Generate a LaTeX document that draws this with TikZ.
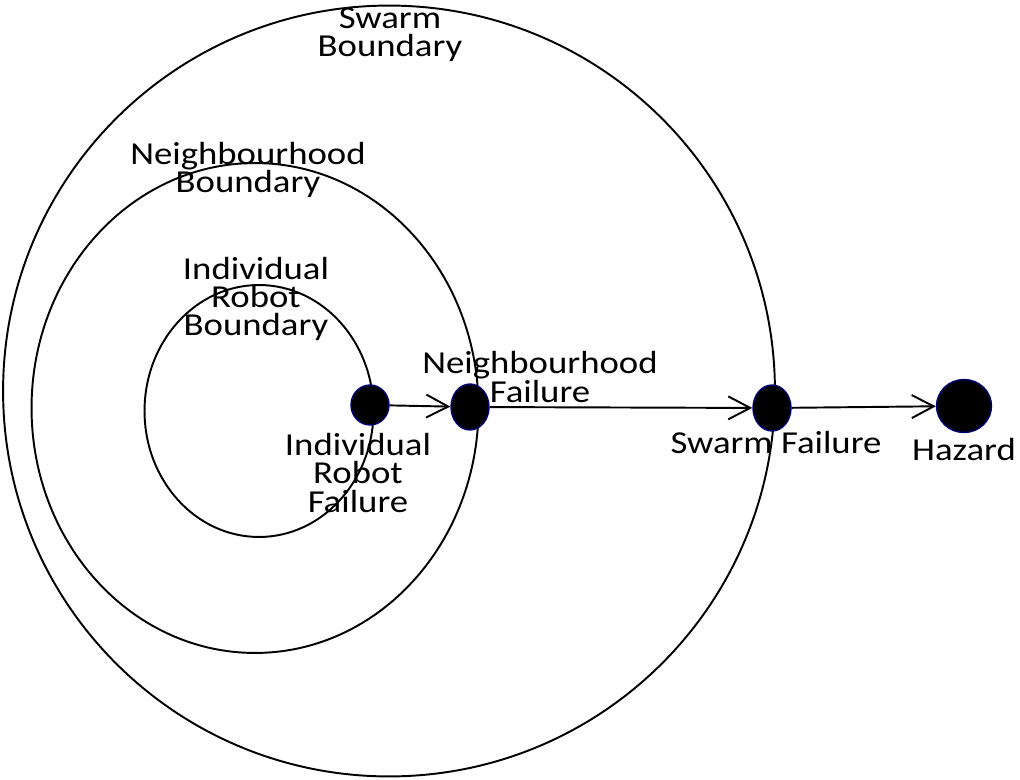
\documentclass[tikz,border=0pt]{standalone}
\usepackage{fontspec}
\setmainfont{Carlito}[FakeStretch=1.15]
\usepackage{tikz}
\usetikzlibrary{positioning,arrows.meta,shapes.geometric}

\begin{document}
\begin{tikzpicture}[
  x=0.02cm, y=-0.02cm,
  >={Straight Barb[length=4.4mm,width=4.6mm,line width=1.1pt]},
  bound/.style={line width=1.1pt},
  fdot/.style={draw=blue!45!black,line width=0.8pt,fill=black,ellipse,
               inner sep=0pt,minimum width=7.6mm,minimum height=9.2mm},
  lbl/.style={align=center,inner sep=0pt,font=\fontsize{18.2}{16}\selectfont},
  flow/.style={->,line width=1.1pt}]
  \useasboundingbox (0,0) rectangle (1020,780);
  % --- nested boundaries ---
  \draw[bound] (389,391) ellipse [x radius=7.72cm, y radius=7.71cm];
  \draw[bound] (255,408) ellipse [x radius=4.47cm, y radius=4.9cm];
  \draw[bound] (259,411) ellipse [x radius=2.29cm, y radius=2.52cm];
  \node[lbl] (swarmb) at (390,35)  {Swarm\\Boundary};
  \node[lbl] (nbhdb)  at (248,170) {Neighbourhood\\Boundary};
  \node[lbl] (robotb) at (256,299) {Individual\\Robot\\Boundary};
  % --- failure propagation ---
  \node[fdot,minimum height=8mm] (irf) at (370,405) {};
  \node[fdot] (nf) at (470,407) {};
  \node[fdot] (sf) at (772,408) {};
  \node[fdot,minimum width=11mm,minimum height=10.6mm] (hz) at (964,406) {};
  \draw[flow] (irf) -- (nf);
  \draw[flow] (nf) -- (sf);
  \draw[flow] (sf) -- (hz);
  \node[lbl] (irfl) at (358,473) {Individual\\Robot\\Failure};
  \node[lbl] (nfl)  at (540,377) {Neighbourhood\\Failure};
  \node[lbl] (sfl)  at (776,443) {Swarm Failure};
  \node[lbl] (hzl)  at (964,450) {Hazard};
\end{tikzpicture}
\end{document}
